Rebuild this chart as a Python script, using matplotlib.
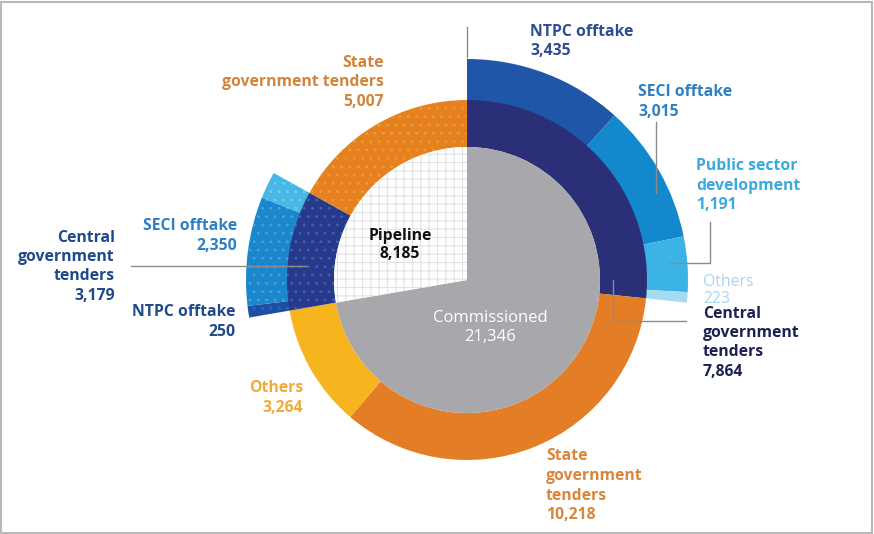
import matplotlib.pyplot as plt
from matplotlib.patches import Rectangle

plt.rcParams['font.family'] = ['Open Sans', 'DejaVu Sans']
plt.rcParams['hatch.linewidth'] = 0.8

# inner pie: status
status = ['Commissioned', 'Pipeline']
status_mw = [21346, 8185]

# middle ring: tender type within each status (clockwise from 12 o'clock)
tender = ['Central government tenders', 'State government tenders', 'Others',
          'Central government tenders', 'State government tenders']
tender_mw = [7864, 10218, 3264, 3179, 5007]

# outer ring: offtaker split of central government tenders
comm_central = ['NTPC offtake', 'SECI offtake', 'Public sector development', 'Others']
comm_central_mw = [3435, 3015, 1191, 223]
pipe_central = ['NTPC offtake', 'SECI offtake', 'Public sector development']
pipe_central_mw = [250, 2350, 579]

W, H = 874, 534
cx, cy = 467, H - 280

fig = plt.figure(figsize=(W / 100, H / 100), dpi=100)
ax = fig.add_axes([0, 0, 1, 1])

# outer ring, with blank gaps where there is no breakdown
gap1 = tender_mw[1] + tender_mw[2]
gap2 = tender_mw[4]
outer_vals = comm_central_mw + [gap1] + pipe_central_mw + [gap2]
outer_cols = ['#1f56a8', '#1488cd', '#3bb3e4', '#a6d9f2', 'none',
              '#1f4fa2', '#1a86cc', '#46b8e6', 'none']
outer, _ = ax.pie(outer_vals, colors=outer_cols, startangle=90, counterclock=False,
                  center=(cx, cy), radius=221,
                  wedgeprops=dict(width=42, linewidth=0))

mid_cols = ['#2a2f78', '#e47e26', '#f6b41e', '#26398a', '#e5821f']
mid, _ = ax.pie(tender_mw, colors=mid_cols, startangle=90, counterclock=False,
                center=(cx, cy), radius=180,
                wedgeprops=dict(width=47, linewidth=0))

inner, _ = ax.pie(status_mw, colors=['#a8a8ac', 'white'], startangle=90,
                  counterclock=False, center=(cx, cy), radius=133,
                  wedgeprops=dict(linewidth=0))

# halftone-ish textures on the pipeline parts
inner[1].set_hatch('++')
inner[1].set_edgecolor('#e2e2e2')
inner[1].set_linewidth(0)
for w, c in [(mid[3], '#4260b0'), (mid[4], '#f09a3a'),
             (outer[5], '#3366b8'), (outer[6], '#47a2dc'), (outer[7], '#7ccbef')]:
    w.set_hatch('..')
    w.set_edgecolor(c)
    w.set_linewidth(0)

ax.set_xlim(0, W)
ax.set_ylim(0, H)
ax.set_aspect('equal')
ax.axis('off')


# y is the baseline of the last line, in picture pixels from the top;
# each line is placed on its own so the line step is exact
def label(x, y, s, color, ha='left', weight='bold', size=11.3, step=19.5):
    lines = s.split('\n')
    n = len(lines)
    for i, line in enumerate(lines):
        ax.text(x, H - (y - (n - 1 - i) * step), line, color=color, ha=ha,
                va='baseline', fontsize=size, fontweight=weight)


label(530, 55, 'NTPC offtake\n3,435', '#2f4d91')
label(638, 116, 'SECI offtake\n3,015', '#2f80c2')
label(696, 209, 'Public sector\ndevelopment\n1,191', '#3aa9dc')
label(703, 303, 'Others\n223', '#a8d4ef', weight='normal', step=17)
label(703, 376, 'Central\ngovernment\ntenders\n7,864', '#1d2152')
label(546, 519, 'State\ngovernment\ntenders\n10,218', '#d8873b')
label(303, 412, 'Others\n3,264', '#f2a93a', ha='right')
label(235, 336, 'NTPC offtake\n250', '#1f4a8a', ha='right')
label(115, 300, 'Central\ngovernment\ntenders\n3,179', '#1f4a8a', ha='right')
label(237, 250, 'SECI offtake\n2,350', '#2f80c2', ha='right')
label(384, 106, 'State\ngovernment tenders\n5,007', '#d4843a', ha='right')
label(400, 258, 'Pipeline\n8,185', '#111111', ha='center', step=18.5)
label(490, 341, 'Commissioned\n21,346', 'white', ha='center', weight='normal',
      size=12, step=19)

# leader lines
lc = dict(color='#8c8c8c', lw=1)
ax.plot([467, 467], [H - 27, H - 57], **lc)
ax.plot([656, 656], [H - 122, H - 193], **lc)
ax.plot([710, 710, 668], [H - 222, H - 263, H - 263], **lc)
ax.plot([613, 613, 686], [H - 280, H - 321, H - 321], **lc)
ax.plot([131, 306], [H - 266, H - 266], **lc)

# thin frame around the graphic
ax.add_patch(Rectangle((1, 1), W - 3, H - 3, fill=False, edgecolor='#b8b8b8', lw=1.5))

fig.savefig('out.png', dpi=100)
